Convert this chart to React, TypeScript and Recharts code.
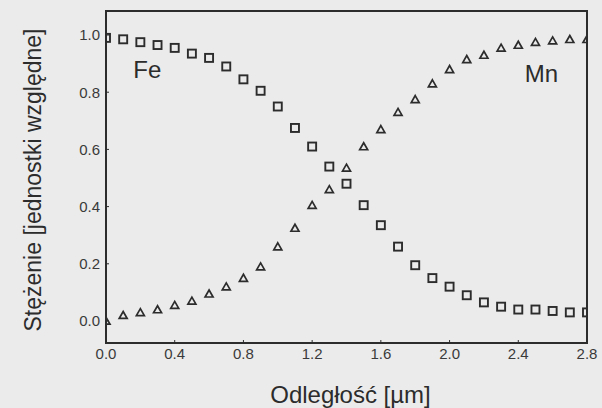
import { ScatterChart, Scatter, XAxis, YAxis, Label, ReferenceDot } from "recharts";

// distance along the profile [µm]
const distance = [
  0.0, 0.1, 0.2, 0.3, 0.4, 0.5, 0.6, 0.7, 0.8, 0.9, 1.0, 1.1, 1.2, 1.3, 1.4,
  1.5, 1.6, 1.7, 1.8, 1.9, 2.0, 2.1, 2.2, 2.3, 2.4, 2.5, 2.6, 2.7, 2.8,
];

// relative concentration, squares
const fe = [
  0.99, 0.985, 0.975, 0.965, 0.955, 0.935, 0.92, 0.89, 0.845, 0.805, 0.75,
  0.675, 0.61, 0.54, 0.48, 0.405, 0.335, 0.26, 0.195, 0.15, 0.12, 0.09, 0.065,
  0.05, 0.04, 0.04, 0.035, 0.03, 0.03,
];

// relative concentration, triangles
const mn = [
  0.0, 0.02, 0.03, 0.04, 0.055, 0.07, 0.095, 0.12, 0.15, 0.19, 0.26, 0.325,
  0.405, 0.46, 0.535, 0.61, 0.67, 0.73, 0.775, 0.83, 0.88, 0.915, 0.93, 0.955,
  0.965, 0.975, 0.98, 0.985, 0.985,
];

const xTicks = [0, 0.4, 0.8, 1.2, 1.6, 2.0, 2.4, 2.8];
const yTicks = [0, 0.2, 0.4, 0.6, 0.8, 1.0];
const xDomain = [0, 2.8];
const yDomain = [-0.077, 1.084];

const elementNames = ["Fe", "Mn"];
const nameX = [0.24, 2.535];
const nameY = [0.88, 0.867];

const feData = distance.map((x, i) => ({ x, y: fe[i] }));
const mnData = distance.map((x, i) => ({ x, y: mn[i] }));

const INK = "#2c2c2c";
const FONT = "'Liberation Sans', Arial, sans-serif";

// chart box
const W = 602;
const H = 408;
const M = { top: 11, right: 15, bottom: 0, left: 0 };
const Y_AXIS_W = 106;
const X_AXIS_H = 65;

function SquareMarker(props: any) {
  const { cx, cy } = props;
  return (
    <rect
      x={cx - 4}
      y={cy - 4}
      width={8}
      height={8}
      fill="none"
      stroke={INK}
      strokeWidth={1.9}
    />
  );
}

function TriangleMarker(props: any) {
  const { cx, cy } = props;
  return (
    <polygon
      points={`${cx},${cy - 3.8} ${cx + 4},${cy + 3.2} ${cx - 4},${cy + 3.2}`}
      fill="none"
      stroke={INK}
      strokeWidth={1.7}
      strokeLinejoin="miter"
    />
  );
}

const tickStyle = { fontSize: 15, fill: "#3a3a3a", fontFamily: FONT };

export default function App() {
  // plot rectangle, for the closed frame round it
  const plotLeft = M.left + Y_AXIS_W;
  const plotTop = M.top;
  const plotW = W - M.right - plotLeft;
  const plotH = H - M.bottom - X_AXIS_H - plotTop;

  return (
    <div
      style={{
        position: "absolute",
        left: 0,
        top: 0,
        width: W,
        height: H,
        background: "#ebebeb",
        fontFamily: FONT,
      }}
    >
      <ScatterChart width={W} height={H} margin={M}>
        <XAxis
          type="number"
          dataKey="x"
          domain={xDomain}
          ticks={xTicks}
          tickFormatter={(v: number) => v.toFixed(1)}
          allowDataOverflow
          height={X_AXIS_H}
          tickSize={-3}
          tickMargin={8}
          tick={tickStyle}
          tickLine={{ stroke: INK }}
          axisLine={{ stroke: INK, strokeWidth: 2 }}
        >
          <Label
            value="Odległość [µm]"
            position="center"
            dx={4}
            dy={19}
            style={{ fontSize: 24, fill: INK, fontFamily: FONT }}
          />
        </XAxis>
        <YAxis
          type="number"
          dataKey="y"
          domain={yDomain}
          ticks={yTicks}
          tickFormatter={(v: number) => v.toFixed(1)}
          allowDataOverflow
          width={Y_AXIS_W}
          tickSize={-3}
          tickMargin={9}
          tick={tickStyle}
          tickLine={{ stroke: INK }}
          axisLine={{ stroke: INK, strokeWidth: 2 }}
        >
          <Label
            value="Stężenie [jednostki względne]"
            angle={-90}
            position="center"
            dx={-20}
            dy={3}
            style={{ fontSize: 23, fill: INK, fontFamily: FONT, textAnchor: "middle" }}
          />
        </YAxis>
        <Scatter
          name="Fe"
          data={feData}
          shape={<SquareMarker />}
          isAnimationActive={false}
        />
        <Scatter
          name="Mn"
          data={mnData}
          shape={<TriangleMarker />}
          isAnimationActive={false}
        />
        {elementNames.map((name, i) => (
          <ReferenceDot
            key={name}
            x={nameX[i]}
            y={nameY[i]}
            r={0}
            stroke="none"
            label={{
              value: name,
              position: "center",
              fontSize: 24,
              fill: INK,
              fontFamily: FONT,
            }}
          />
        ))}
      </ScatterChart>
      <div
        style={{
          position: "absolute",
          left: plotLeft - 1,
          top: plotTop - 1,
          width: plotW + 2,
          height: plotH + 2,
          border: `2px solid ${INK}`,
          boxSizing: "border-box",
          pointerEvents: "none",
        }}
      />
    </div>
  );
}
